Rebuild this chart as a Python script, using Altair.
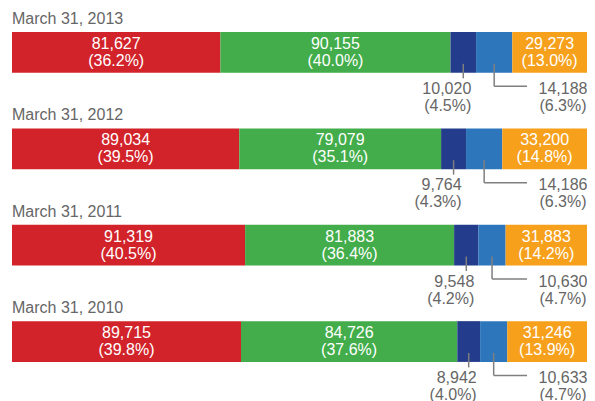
import altair as alt
import pandas as pd

periods = ["March 31, 2013", "March 31, 2012", "March 31, 2011", "March 31, 2010"]
segments = ["Segment 1", "Segment 2", "Segment 3", "Segment 4", "Segment 5"]
colors = ["#d2232a", "#42ad4a", "#233c8b", "#2e76bb", "#f6a01b"]

values_2013 = [81627, 90155, 10020, 14188, 29273]
values_2012 = [89034, 79079, 9764, 14186, 33200]
values_2011 = [91319, 81883, 9548, 10630, 31883]
values_2010 = [89715, 84726, 8942, 10633, 31246]

pct_2013 = [36.2, 40.0, 4.5, 6.3, 13.0]
pct_2012 = [39.5, 35.1, 4.3, 6.3, 14.8]
pct_2011 = [40.5, 36.4, 4.2, 4.7, 14.2]
pct_2010 = [39.8, 37.6, 4.0, 4.7, 13.9]

all_values = [values_2013, values_2012, values_2011, values_2010]
all_pcts = [pct_2013, pct_2012, pct_2011, pct_2010]

rows = []
for p, vals, pcts in zip(periods, all_values, all_pcts):
    for j, (s, v, pc) in enumerate(zip(segments, vals, pcts)):
        rows.append({"period": p, "seg": s, "order": j, "value": v, "pct": pc})
df = pd.DataFrame(rows)

FONT = "Liberation Sans"
GRAY = "#666666"
LINE = "#7f7f7f"
FS = 16

base = (
    alt.Chart(df)
    .transform_stack(
        stack="value",
        groupby=["period"],
        as_=["x0", "x1"],
        offset="normalize",
        sort=[alt.SortField("order", order="ascending")],
    )
    .transform_calculate(
        mid="(datum.x0 + datum.x1) / 2",
        label="format(datum.value, ',') + '|(' + format(datum.pct, '.1f') + '%)'",
    )
    .transform_joinaggregate(xend="max(x1)", groupby=["period"])
)

xs = alt.Scale(nice=False, zero=True)
ys = alt.Scale(paddingInner=0.577, paddingOuter=0.25)

def Y(bp=0.5):
    return alt.Y("period:N", sort=periods, axis=None, scale=ys, bandPosition=bp)

bars = base.mark_bar().encode(
    x=alt.X("x0:Q", axis=None, scale=xs),
    x2="x1:Q",
    y=alt.Y("period:N", sort=periods, axis=None, scale=ys),
    color=alt.Color("seg:N", scale=alt.Scale(domain=segments, range=colors), legend=None),
)

titles = base.transform_filter("datum.order == 0").mark_text(
    align="left", baseline="alphabetic", dy=-8, fontSize=FS, font=FONT, color=GRAY
).encode(x=alt.X("x0:Q"), y=Y(0), text="period:N")

inside = base.transform_filter("datum.order == 0 || datum.order == 1 || datum.order == 4").mark_text(
    align="center", baseline="middle", dy=-8.5, fontSize=FS, font=FONT, color="white",
    lineBreak="|", lineHeight=17,
).encode(x="mid:Q", y=alt.Y("period:N", sort=periods, axis=None, scale=ys), text="label:N")

below_dark = base.transform_filter("datum.order == 2").mark_text(
    align="right", baseline="alphabetic", dx=8, dy=21, fontSize=FS, font=FONT, color=GRAY,
    lineBreak="|", lineHeight=17,
).encode(x="mid:Q", y=Y(1), text="label:N")

below_light = base.transform_filter("datum.order == 3").mark_text(
    align="center", baseline="alphabetic", dx=-24, dy=21, fontSize=FS, font=FONT, color=GRAY,
    lineBreak="|", lineHeight=17,
).encode(x="xend:Q", y=Y(1), text="label:N")

rule_dark = base.transform_filter("datum.order == 2").mark_rule(
    color=LINE, strokeWidth=1.5, yOffset=-9, y2Offset=5.5
).encode(x="mid:Q", y=Y(1), y2=alt.Y2("period:N", bandPosition=1))

rule_light_v = base.transform_filter("datum.order == 3").mark_rule(
    color=LINE, strokeWidth=1.5, yOffset=-9, y2Offset=13.5
).encode(x="mid:Q", y=Y(1), y2=alt.Y2("period:N", bandPosition=1))

rule_light_h = base.transform_filter("datum.order == 3").mark_rule(
    color=LINE, strokeWidth=1.5, yOffset=13.5, x2Offset=-60
).encode(x="mid:Q", x2="xend:Q", y=Y(1))

chart = (
    alt.layer(bars, titles, inside, rule_dark, rule_light_v, rule_light_h, below_dark, below_light)
    .properties(
        width=575,
        height=378,
        autosize=alt.AutoSizeParams(type="none"),
        padding={"left": 4, "top": 0, "right": 0, "bottom": 17},
        background="white",
    )
    .configure_view(stroke=None)
)

chart.save("out.html", embed_options={"renderer": "svg", "actions": False})
